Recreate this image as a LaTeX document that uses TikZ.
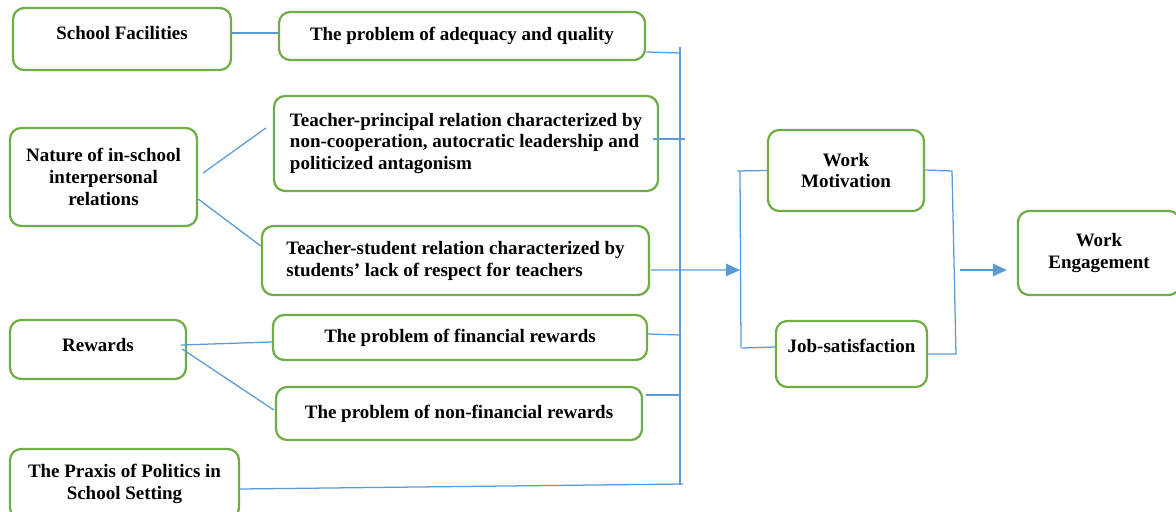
\documentclass[tikz,border=0pt]{standalone}
\usepackage{fontspec}
\setmainfont{Liberation Serif}
\usepackage{tikz}
\usetikzlibrary{arrows.meta, positioning, calc}
\definecolor{boxgreen}{HTML}{70AD47}
\definecolor{linkblue}{HTML}{5B9BD5}

\begin{document}
\begin{tikzpicture}[x=0.025cm, y=-0.025cm,
    factor/.style={draw=boxgreen, line width=1.6pt, rounded corners=8pt,
                   align=center, inner sep=2pt,
                   font=\fontsize{13.5}{15.6}\selectfont\bfseries},
    issue/.style={factor, align=left},
    link/.style={draw=linkblue, line width=0.9pt},
    flow/.style={link, -{Triangle[length=10pt, width=9pt]}},
]
    \clip (0,0) rectangle (1176,512);

    % factors on the left
    \node[factor, minimum width=5.45cm, minimum height=1.55cm, text depth=8pt] (fac) at (122,39) {School Facilities};
    \node[factor, minimum width=4.675cm, minimum height=2.45cm] (nat) at (103.5,177) {Nature of in-school\\interpersonal\\relations};
    \node[factor, minimum width=4.4cm, minimum height=1.475cm, text depth=6pt] (rew) at (98,349.5) {Rewards};
    \node[factor, minimum width=5.725cm, minimum height=1.75cm] (pol) at (124.5,484) {The Praxis of Politics in\\School Setting};

    % problems in the middle
    \node[issue, minimum width=9.15cm, minimum height=1.2cm] (adeq) at (462,36) {The problem of adequacy and quality};
    \node[issue, minimum width=9.6cm, minimum height=2.375cm] (tp) at (466,143.5) {Teacher-principal relation characterized by\\non-cooperation, autocratic leadership and\\politicized antagonism};
    \node[issue, minimum width=9.675cm, minimum height=1.725cm] (ts) at (455.5,260.5) {Teacher-student relation characterized by\\students’ lack of respect for teachers};
    \node[issue, minimum width=9.35cm, minimum height=1.125cm] (fin) at (460,337.5) {The problem of financial rewards};
    \node[issue, minimum width=9.15cm, minimum height=1.325cm] (nfin) at (459,413.5) {The problem of non-financial rewards};

    % outcomes on the right
    \node[factor, minimum width=3.9cm, minimum height=2.025cm] (mot) at (846,170.5) {Work\\Motivation};
    \node[factor, minimum width=3.775cm, minimum height=1.65cm, text depth=11pt] (sat) at (851.5,354) {Job-satisfaction};
    \node[factor, minimum width=4.05cm, minimum height=2.1cm] (eng) at (1099,253) {Work\\Engagement};

    % factor to problem
    \draw[link] ($(fac.east)+(0,-6)$) -- ($(adeq.west)+(0,-3)$);
    \draw[link] ($(nat.east)+(5,-4)$) -- ($(tp.west)+(-7,-15.5)$);
    \draw[link] ($(nat.east)+(0,22)$) -- ($(ts.west)+(0,-14.5)$);
    \draw[link] ($(rew.east)+(-6,-4.5)$) -- ($(fin.west)+(0,4.5)$);
    \draw[link] ($(rew.east)+(-5,-0.5)$) -- ($(nfin.west)+(-1,-3.5)$);

    % collecting bar
    \coordinate (busT) at (680,47);
    \coordinate (busB) at (680,485);
    \draw[link] (busT) -- (busB);
    \draw[link] ($(adeq.east)+(0,16)$) -- (busT |- 0,53);
    \draw[link] ($(tp.east)+(-6,-4.5)$) -- +(32,0);
    \draw[link] ($(fin.east)+(0,-3.5)$) -- (busT |- 0,335);
    \draw[link] ($(nfin.east)+(3,-18.5)$) -- (busT |- 0,395);
    \draw[link] ($(pol.east)+(0,5)$) -- ($(busB)+(3,-1)$);

    % bracket into the two outcomes
    \coordinate (inT) at (740,171);
    \coordinate (inB) at (741,348);
    \draw[link] (inT) -- (inB);
    \draw[link] ($(inT)+(-3,0)$) -- (mot.west);
    \draw[link] ($(inB)+(1,0)$) -- ($(sat.west)+(0,-7)$);
    \draw[flow] ($(ts.east)+(1,9.5)$) -- (inT |- 0,270);

    % bracket out to engagement
    \coordinate (outT) at (952,171);
    \coordinate (outB) at (956,354);
    \draw[link] ($(mot.east)+(0,-0.5)$) -- (outT) -- (outB) -- (sat.east);
    \draw[flow] (960,270) -- ($(eng.west)+(-10,17)$);
\end{tikzpicture}
\end{document}
